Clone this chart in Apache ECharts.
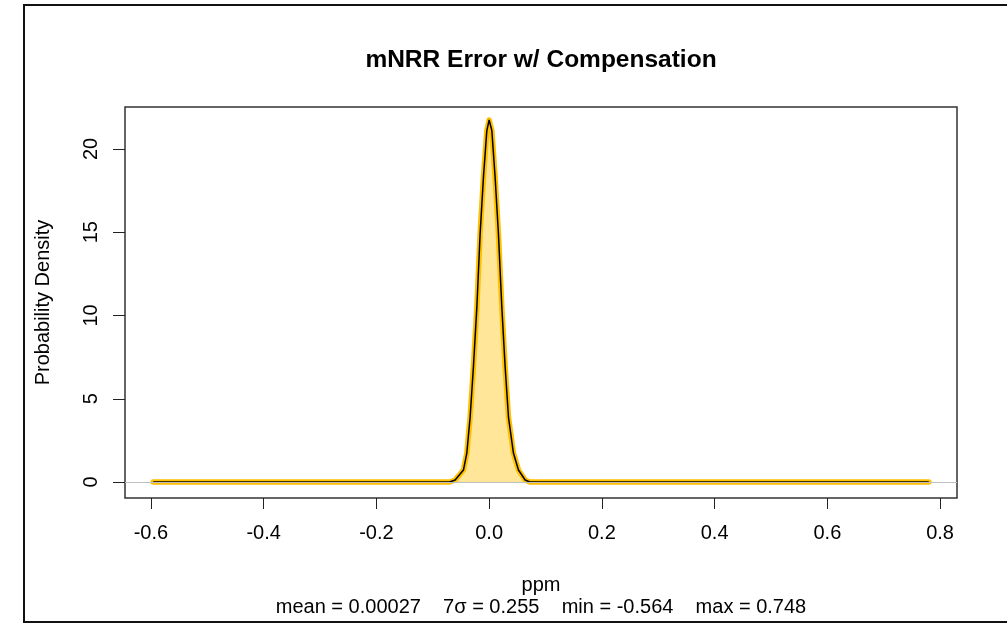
<!DOCTYPE html>
<html>
<head>
<meta charset="utf-8">
<script src="https://cdn.jsdelivr.net/npm/echarts@6/dist/echarts.min.js"></script>
<style>
  html, body { margin: 0; padding: 0; background: #fff; }
  #chart { width: 1007px; height: 623px; }
</style>
</head>
<body>
<div id="chart"></div>
<script>
// Kernel density estimate of the mNRR error (ppm)
const densityX = [-0.596, -0.070, -0.0603, -0.0456, -0.0396, -0.0337, -0.0279, -0.0218, -0.0160, -0.0101, -0.0041, 0.0000,
                  0.0048, 0.0106, 0.0165, 0.0225, 0.0284, 0.0343, 0.0431, 0.0520, 0.0639, 0.072, 0.780];
const densityY = [0, 0, 0.12, 0.72, 1.74, 3.90, 6.91, 10.5, 14.9, 18.3, 21.1, 21.74,
                  21.1, 18.3, 14.9, 10.5, 6.91, 3.90, 1.74, 0.72, 0.12, 0, 0];

const xTicks = [-0.6, -0.4, -0.2, 0.0, 0.2, 0.4, 0.6, 0.8];
const yTicks = [0, 5, 10, 15, 20];

const titleText = 'mNRR Error w/ Compensation';
const xName = 'ppm';
const statsText = 'mean = 0.00027    7\u03c3 = 0.255    min = -0.564    max = 0.748';
const yName = 'Probability Density';

const points = densityX.map((x, i) => [x, densityY[i]]);
const FONT = '"Liberation Sans", Arial, sans-serif';

const chart = echarts.init(document.getElementById('chart'), null, { renderer: 'canvas' });
chart.setOption({
  animation: false,
  backgroundColor: '#ffffff',
  title: [
    {
      text: titleText,
      left: 541, top: 48, textAlign: 'center', padding: 0,
      textStyle: { fontFamily: FONT, fontSize: 24.5, fontWeight: 'bold', color: '#000' }
    },
    {
      text: statsText,
      left: 541, top: 597, textAlign: 'center', padding: 0,
      textStyle: { fontFamily: FONT, fontSize: 20, fontWeight: 'normal', color: '#000' }
    }
  ],
  graphic: [{
    type: 'rect',
    shape: { x: 24, y: 5, width: 1000, height: 617 },
    style: { fill: null, stroke: '#111', lineWidth: 2 },
    silent: true
  }],
  grid: {
    left: 125, top: 107, width: 832, height: 391,
    show: true, borderColor: '#333', borderWidth: 1.5, backgroundColor: 'transparent'
  },
  xAxis: {
    type: 'value',
    min: -0.646, max: 0.830,
    name: xName, nameLocation: 'middle', nameGap: 77,
    nameTextStyle: { fontFamily: FONT, fontSize: 20, color: '#000' },
    axisLine: { show: false, onZero: false },
    axisTick: { show: true, inside: false, length: 11, customValues: xTicks, lineStyle: { color: '#222', width: 1 } },
    axisLabel: {
      customValues: xTicks, margin: 25,
      fontFamily: FONT, fontSize: 20, color: '#000',
      formatter: v => v.toFixed(1)
    },
    splitLine: { show: false }
  },
  yAxis: {
    type: 'value',
    min: -0.96, max: 22.52,
    name: yName, nameLocation: 'middle', nameGap: 72, nameRotate: 90,
    nameTextStyle: { fontFamily: FONT, fontSize: 20, color: '#000' },
    axisLine: { show: false, onZero: false },
    axisTick: { show: true, inside: false, length: 12, customValues: yTicks, lineStyle: { color: '#222', width: 1 } },
    axisLabel: {
      customValues: yTicks, rotate: 90, margin: 24,
      fontFamily: FONT, fontSize: 20, color: '#000'
    },
    splitLine: { show: false }
  },
  series: [
    {
      // horizontal reference line at zero density
      type: 'line', data: [], z: 1,
      markLine: {
        silent: true, symbol: 'none', label: { show: false },
        lineStyle: { color: '#bebebe', width: 1, type: 'solid' },
        data: [{ yAxis: 0 }]
      }
    },
    {
      type: 'line', data: points, z: 2,
      showSymbol: false, smooth: false,
      lineStyle: { color: '#ffc000', width: 5.5, cap: 'round', join: 'round' },
      areaStyle: { color: '#ffe699', opacity: 1 }
    },
    {
      type: 'line', data: points, z: 3,
      showSymbol: false, smooth: false,
      lineStyle: { color: '#000', width: 1.5 }
    }
  ]
});
</script>
</body>
</html>
